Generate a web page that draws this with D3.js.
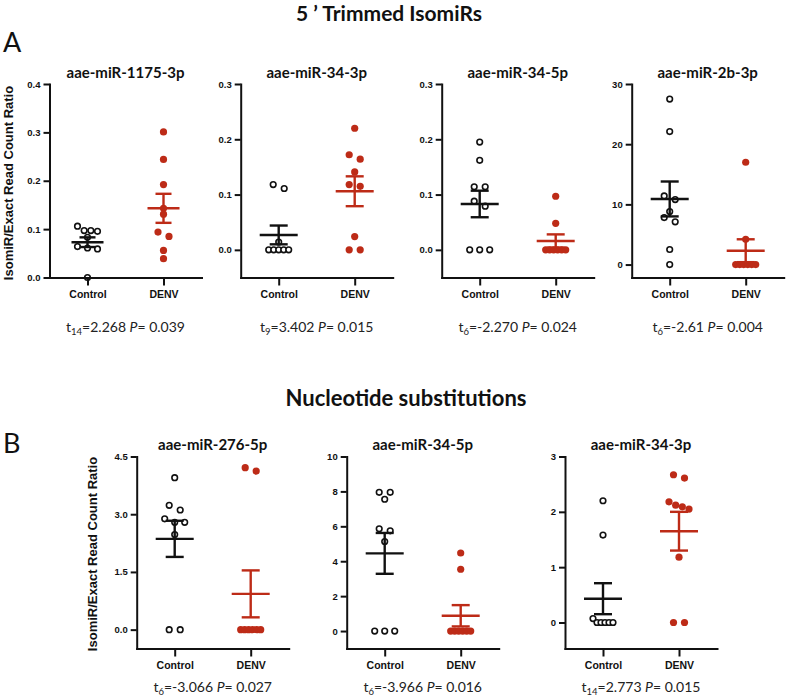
<!DOCTYPE html>
<html>
<head>
<meta charset="utf-8">
<script src="https://cdn.jsdelivr.net/npm/d3@7"></script>
<style>
  html, body { margin: 0; padding: 0; background: #fff; }
  svg { display: block; }
</style>
</head>
<body>
<svg id="chart" width="787" height="700"></svg>
<script>
// ---------------- DATA ----------------
const sectionTitles = ["5 ’ Trimmed IsomiRs", "Nucleotide substitutions"];
const sectionLetters = ["A", "B"];
const yAxisLabel = "IsomiR/Exact Read Count Ratio";
const groups = ["Control", "DENV"];
const panelNames = ["aae-miR-1175-3p", "aae-miR-34-3p", "aae-miR-34-5p", "aae-miR-2b-3p",
                    "aae-miR-276-5p", "aae-miR-34-5p", "aae-miR-34-3p"];
const panelRow = [0, 0, 0, 0, 1, 1, 1];

const controlValues = [
  [0.106, 0.097, 0.0955, 0.097, 0.083, 0.061, 0.059, 0.064, 0],
  [0.118, 0.111, 0.014, 0, 0, 0, 0, 0],
  [0.195, 0.162, 0.114, 0.114, 0.088, 0.079, 0, 0, 0],
  [27.5, 22.1, 11.4, 10.8, 8.8, 7.8, 7.1, 2.5, 0],
  [3.95, 3.23, 3.11, 2.88, 2.79, 2.79, 2.47, 0, 0],
  [7.95, 7.95, 7.55, 5.86, 5.74, 5.13, 0, 0, 0],
  [2.2, 1.58, 0.07, 0, 0, 0, 0, 0]
];
const denvValues = [
  [0.301, 0.244, 0.192, 0.143, 0.131, 0.094, 0.085, 0.056, 0.039],
  [0.220, 0.172, 0.164, 0.141, 0.118, 0.115, 0.024, 0, 0],
  [0.097, 0.048, 0, 0, 0, 0, 0, 0],
  [17.0, 4.2, 0, 0, 0, 0, 0, 0],
  [4.21, 4.12, 0, 0, 0, 0, 0, 0],
  [4.47, 3.54, 0, 0, 0, 0, 0, 0],
  [2.67, 2.61, 2.18, 2.12, 2.09, 2.05, 1.18, 0, 0]
];
const controlMean = [0.073, 0.027, 0.083, 10.9, 2.36, 4.45, 0.43];
const controlSem  = [0.010, 0.017, 0.024, 2.9, 0.47, 1.17, 0.28];
const denvMean    = [0.143, 0.106, 0.016, 2.3, 0.93, 0.875, 1.65];
const denvSem     = [0.030, 0.027, 0.012, 1.9, 0.61, 0.61, 0.35];

const yMin = [0, -0.05, -0.05, -2.15, -0.49, -1, -0.47];
const yMax = [0.4, 0.3, 0.3, 30, 4.5, 10, 3];
const yTicks = [
  [0, 0.1, 0.2, 0.3, 0.4],
  [0, 0.1, 0.2, 0.3],
  [0, 0.1, 0.2, 0.3],
  [0, 10, 20, 30],
  [0, 1.5, 3.0, 4.5],
  [0, 2, 4, 6, 8, 10],
  [0, 1, 2, 3]
];
const yTickLabels = [
  ["0.0", "0.1", "0.2", "0.3", "0.4"],
  ["0.0", "0.1", "0.2", "0.3"],
  ["0.0", "0.1", "0.2", "0.3"],
  ["0", "10", "20", "30"],
  ["0.0", "1.5", "3.0", "4.5"],
  ["0", "2", "4", "6", "8", "10"],
  ["0", "1", "2", "3"]
];
const tDf  = ["14", "9", "6", "6", "6", "6", "14"];
const tVal = ["2.268", "3.402", "-2.270", "-2.61", "-3.066", "-3.966", "2.773"];
const pVal = ["0.039", "0.015", "0.024", "0.004", "0.027", "0.016", "0.015"];

// ---------------- LAYOUT / STYLE ----------------
const RED = "#bd2b17";
const BLACK = "#111";
const plotW = 152;
const rows = [
  { lefts: [49.5, 240.7, 441.7, 631.7], top: 84, bottom: 277.5, statY: 331.5,
    titleY: 21, titleX: 389, titleSize: 21, letterY: 52, ylabX: 13, ylabY: 183 },
  { lefts: [136.7, 346.7, 565], top: 456.5, bottom: 648.5, statY: 691.5,
    titleY: 406, titleX: 406, titleSize: 22, letterY: 453, ylabX: 96.5, ylabY: 554 }
];
const meanHalf = [16, 19, 19, 19, 19, 19, 19];
const capHalf  = [8, 9, 9, 9, 9, 9, 9];

const svg = d3.select("#chart");
const LATO = "Lato, 'Open Sans', sans-serif";
const ARIAL = "'Liberation Sans', Arial, sans-serif";

// section titles and letters
rows.forEach((r, ri) => {
  svg.append("text").attr("x", r.titleX).attr("y", r.titleY)
    .attr("text-anchor", "middle").attr("font-family", LATO)
    .attr("font-weight", 700).attr("font-size", r.titleSize).attr("fill", BLACK)
    .text(sectionTitles[ri]);
  svg.append("text").attr("x", 3).attr("y", r.letterY)
    .attr("font-family", LATO).attr("font-size", 27).attr("fill", BLACK)
    .text(sectionLetters[ri]);
  svg.append("text")
    .attr("transform", `translate(${r.ylabX},${r.ylabY}) rotate(-90)`)
    .attr("text-anchor", "middle").attr("font-family", ARIAL)
    .attr("font-weight", 700).attr("font-size", 13).attr("fill", BLACK)
    .text(yAxisLabel);
});

function swarm(values, y, cx) {
  const pts = values.map(v => ({ v, py: y(v) })).sort((a, b) => a.py - b.py);
  const groupsRows = [];
  let cur = [pts[0]];
  for (let k = 1; k < pts.length; k++) {
    if (pts[k].py - cur[cur.length - 1].py < 5) cur.push(pts[k]);
    else { groupsRows.push(cur); cur = [pts[k]]; }
  }
  groupsRows.push(cur);
  groupsRows.forEach(rw => {
    const n = rw.length;
    const s = n <= 1 ? 0 : Math.min(11, 20 / (n - 1));
    rw.forEach((p, j) => { p.px = cx + (j - (n - 1) / 2) * s; });
  });
  return pts;
}

const rowCounter = [0, 0];
panelNames.forEach((name, i) => {
  const r = rows[panelRow[i]];
  const left = r.lefts[rowCounter[panelRow[i]]++];
  const g = svg.append("g");

  const x = d3.scalePoint().domain(groups).range([left, left + plotW]).padding(0.5);
  const y = d3.scaleLinear().domain([yMin[i], yMax[i]]).range([r.bottom, r.top]);

  // title
  g.append("text").attr("x", left + plotW / 2).attr("y", r.top - 6.5)
    .attr("text-anchor", "middle").attr("font-family", LATO)
    .attr("font-weight", 700).attr("font-size", 15).attr("fill", BLACK)
    .text(name);

  const series = [
    { vals: controlValues[i], mean: controlMean[i], sem: controlSem[i], grp: groups[0], color: BLACK, open: true },
    { vals: denvValues[i], mean: denvMean[i], sem: denvSem[i], grp: groups[1], color: RED, open: false }
  ];

  series.forEach(s => {
    const cx = x(s.grp);
    const pts = swarm(s.vals, y, cx);
    g.selectAll(null).data(pts).enter().append("circle")
      .attr("cx", d => d.px).attr("cy", d => d.py)
      .attr("r", s.open ? 2.8 : 3.6)
      .attr("fill", s.open ? "#fff" : s.color)
      .attr("stroke", s.open ? s.color : "none")
      .attr("stroke-width", s.open ? 1.6 : 0);
    // mean and SEM
    const lines = [
      [cx - meanHalf[i], y(s.mean), cx + meanHalf[i], y(s.mean)],
      [cx, y(s.mean + s.sem), cx, y(s.mean - s.sem)],
      [cx - capHalf[i], y(s.mean + s.sem), cx + capHalf[i], y(s.mean + s.sem)],
      [cx - capHalf[i], y(s.mean - s.sem), cx + capHalf[i], y(s.mean - s.sem)]
    ];
    g.selectAll(null).data(lines).enter().append("line")
      .attr("x1", d => d[0]).attr("y1", d => d[1])
      .attr("x2", d => d[2]).attr("y2", d => d[3])
      .attr("stroke", s.color).attr("stroke-width", 2.4);
  });

  // axes
  const ya = g.append("g").attr("transform", `translate(${left},0)`)
    .call(d3.axisLeft(y).tickValues(yTicks[i])
      .tickFormat((d, j) => yTickLabels[i][j]).tickSize(6).tickSizeOuter(0).tickPadding(3));
  const xa = g.append("g").attr("transform", `translate(0,${r.bottom})`)
    .call(d3.axisBottom(x).tickSize(8).tickSizeOuter(0).tickPadding(5.5));
  [ya, xa].forEach(a => {
    a.select(".domain").attr("stroke", BLACK).attr("stroke-width", 2).attr("stroke-linecap", "square");
    a.selectAll(".tick line").attr("stroke", BLACK).attr("stroke-width", 2);
    a.selectAll(".tick text").attr("fill", BLACK).attr("font-family", ARIAL).attr("font-weight", 700);
  });
  ya.selectAll(".tick text").attr("font-size", 9.5);
  xa.selectAll(".tick text").attr("font-size", 10.5);

  // stats text
  const st = g.append("text").attr("x", left + plotW / 2).attr("y", r.statY)
    .attr("text-anchor", "middle").attr("font-family", LATO)
    .attr("font-size", 14).attr("fill", "#222");
  st.append("tspan").text("t");
  st.append("tspan").attr("font-size", 9.5).attr("dy", 3).text(tDf[i]);
  st.append("tspan").attr("dy", -3).text("=" + tVal[i] + " ");
  st.append("tspan").attr("font-style", "italic").text("P");
  st.append("tspan").text("= " + pVal[i]);
});
</script>
</body>
</html>
